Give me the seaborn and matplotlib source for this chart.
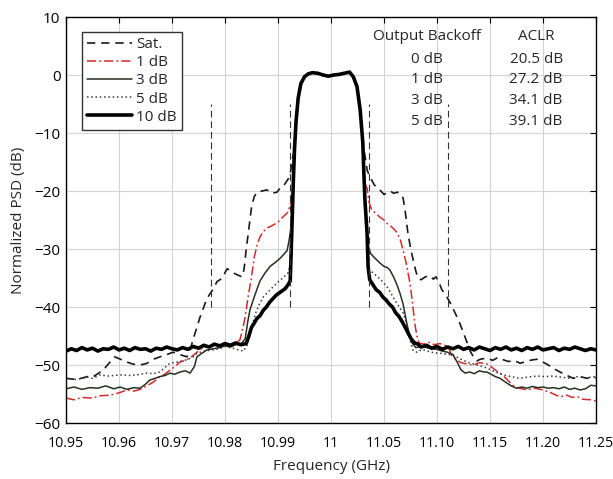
import matplotlib
matplotlib.use("Agg")
import matplotlib.pyplot as plt
import seaborn as sns

# ---------------- data (x in tick-index units, y in dB) ----------------
TICK_POS = [0, 1, 2, 3, 4, 5, 6, 7, 8, 9, 10]
TICK_LABELS = ["10.95", "10.96", "10.97", "10.98", "10.99", "11",
               "11.05", "11.10", "11.15", "11.20", "11.25"]
Y_TICKS = [-60, -50, -40, -30, -20, -10, 0, 10]

# common main-channel band
BAND_X = [4.23, 4.25, 4.27, 4.29, 4.31, 4.34, 4.38, 4.43, 4.50, 4.57, 4.65, 4.75,
          4.85, 4.95, 5.05, 5.15, 5.25, 5.35, 5.42, 5.49, 5.55, 5.60, 5.62, 5.64,
          5.68, 5.70, 5.73]
BAND_Y = [-36, -30, -24, -18, -13, -8, -4, -1.5, -0.3, 0.2, 0.4, 0.3,
          0.0, -0.2, 0.0, 0.1, 0.3, 0.5, -0.3, -2, -6, -11.7, -17, -21.6,
          -27.2, -33.1, -35.3]

# Sat.
SAT_LX = [0, 0.2, 0.4, 0.5, 0.6, 0.7, 0.8, 0.92, 1.0, 1.15, 1.25, 1.34, 1.45, 1.53,
          1.65, 1.77, 1.9, 2.02, 2.15, 2.28, 2.34, 2.4, 2.47, 2.53, 2.6, 2.66, 2.77,
          2.85, 2.94, 3.04, 3.1, 3.15, 3.22, 3.32, 3.36, 3.4, 3.44, 3.5, 3.55, 3.6,
          3.7, 3.79, 3.88, 3.98, 4.04, 4.09, 4.15, 4.2, 4.24, 4.27]
SAT_LY = [-52.3, -52.5, -52.0, -52.1, -51.5, -50.9, -49.8, -48.6, -48.9, -49.5, -49.8,
          -50.0, -49.9, -49.7, -49.0, -48.6, -48.2, -47.8, -48.2, -48.6, -47.5, -45.5,
          -43.5, -41.7, -40.0, -38.5, -37.0, -35.6, -35.1, -33.4, -33.7, -34.1, -34.4,
          -34.8, -33.5, -30.0, -27.2, -22.8, -21.0, -20.2, -20.0, -19.8, -20.4, -20.2,
          -19.5, -19.3, -18.5, -17.8, -16.5, -14.5]
SAT_RX = [5.66, 5.68, 5.75, 5.82, 5.87, 5.94, 6.0, 6.06, 6.12, 6.18, 6.25, 6.32, 6.36,
          6.4, 6.45, 6.5, 6.55, 6.6, 6.64, 6.7, 6.78, 6.87, 6.93, 6.98, 7.04, 7.09,
          7.17, 7.25, 7.34, 7.43, 7.5, 7.57, 7.62, 7.68, 7.75, 7.82, 7.94, 8.05, 8.15,
          8.25, 8.35, 8.45, 8.57, 8.7, 8.81, 8.9, 9.0, 9.1, 9.2, 9.32, 9.45, 9.57,
          9.7, 9.83, 9.92, 10.0]
SAT_RY = [-15.0, -16.4, -17.8, -19.0, -19.3, -20.0, -20.6, -20.3, -20.0, -20.4, -20.2,
          -20.6, -21.2, -23.5, -27.2, -29.8, -31.9, -33.8, -35.0, -35.3, -34.8, -34.6,
          -35.2, -34.8, -35.8, -37.0, -38.0, -39.3, -41.0, -42.8, -44.5, -46.2, -47.5,
          -48.5, -49.3, -49.0, -48.8, -49.2, -48.7, -49.1, -49.4, -49.2, -49.7, -49.3,
          -49.1, -49.0, -49.5, -50.0, -50.6, -51.2, -51.8, -52.3, -52.0, -52.3, -52.1,
          -52.2]

# 1 dB
B1_LX = [0, 0.15, 0.3, 0.5, 0.65, 0.83, 1.0, 1.15, 1.28, 1.4, 1.52, 1.64, 1.77, 1.86,
         1.96, 2.05, 2.15, 2.25, 2.34, 2.47, 2.56, 2.66, 2.78, 2.9, 3.0, 3.09, 3.18,
         3.28, 3.34, 3.38, 3.44, 3.5, 3.55, 3.6, 3.66, 3.72, 3.79, 3.88, 3.98, 4.04,
         4.09, 4.15, 4.19, 4.24, 4.28]
B1_LY = [-55.7, -56.0, -55.6, -55.7, -55.3, -55.2, -54.8, -54.3, -54.5, -54.2, -53.6,
         -53.0, -52.0, -51.6, -50.9, -50.3, -49.5, -49.2, -48.8, -47.8, -47.2, -46.9,
         -46.7, -46.6, -46.3, -46.6, -46.2, -45.7, -43.5, -41.7, -38.0, -34.8, -31.5,
         -29.5, -27.9, -27.0, -26.4, -26.0, -25.5, -25.0, -24.5, -24.0, -23.6, -22.0,
         -20.0]
B1_RX = [5.65, 5.68, 5.72, 5.77, 5.84, 5.92, 6.0, 6.06, 6.11, 6.18, 6.25, 6.31, 6.36,
         6.42, 6.49, 6.54, 6.58, 6.62, 6.66, 6.75, 6.85, 6.95, 7.05, 7.15, 7.22, 7.28,
         7.35, 7.45, 7.55, 7.68, 7.8, 7.94, 8.05, 8.12, 8.19, 8.3, 8.43, 8.55, 8.7,
         8.85, 9.0, 9.15, 9.32, 9.45, 9.55, 9.64, 9.75, 9.9, 10.0]
B1_RY = [-19.0, -19.5, -22.0, -23.3, -23.8, -24.5, -25.0, -25.6, -25.9, -26.5, -27.2,
         -28.5, -30.2, -32.5, -35.9, -39.5, -42.8, -45.0, -46.2, -46.4, -46.1, -46.5,
         -46.3, -46.6, -47.0, -48.5, -49.0, -49.6, -49.8, -50.0, -49.6, -49.8, -50.5,
         -51.0, -51.4, -52.3, -53.5, -54.0, -54.3, -54.0, -54.3, -54.8, -55.5, -55.2,
         -55.6, -55.4, -55.9, -56.0, -56.2]

# 3 dB
B3_LX = [0, 0.15, 0.3, 0.45, 0.6, 0.75, 0.9, 1.02, 1.15, 1.28, 1.4, 1.5, 1.58, 1.68,
         1.77, 1.87, 1.96, 2.05, 2.15, 2.25, 2.34, 2.42, 2.47, 2.56, 2.66, 2.78, 2.9,
         3.0, 3.1, 3.2, 3.3, 3.38, 3.43, 3.47, 3.55, 3.6, 3.66, 3.75, 3.85, 3.95, 4.04,
         4.1, 4.17, 4.21, 4.24, 4.27]
B3_LY = [-54.1, -53.8, -54.2, -53.9, -54.0, -53.6, -54.1, -53.8, -54.2, -53.9, -54.0,
         -53.3, -52.6, -52.3, -52.0, -51.8, -51.4, -51.6, -51.2, -51.0, -51.4, -50.3,
         -48.6, -48.0, -47.4, -47.2, -47.0, -46.7, -46.9, -46.5, -46.4, -45.5, -42.5,
         -40.5, -38.3, -37.0, -35.5, -34.2, -33.0, -32.3, -31.6, -31.0, -30.3, -28.5,
         -26.5, -24.0]
B3_RX = [5.66, 5.7, 5.75, 5.82, 5.92, 6.0, 6.06, 6.11, 6.18, 6.25, 6.3, 6.36, 6.43,
         6.48, 6.53, 6.6, 6.7, 6.8, 6.9, 7.0, 7.1, 7.2, 7.3, 7.38, 7.45, 7.53, 7.62,
         7.7, 7.8, 7.88, 7.94, 8.02, 8.1, 8.19, 8.3, 8.4, 8.5, 8.6, 8.7, 8.8, 8.9,
         9.0, 9.1, 9.2, 9.3, 9.4, 9.5, 9.6, 9.7, 9.8, 9.9, 10.0]
B3_RY = [-25.0, -29.5, -30.8, -31.5, -32.4, -33.0, -33.2, -33.6, -34.8, -36.3, -37.6,
         -39.5, -42.8, -44.8, -46.2, -47.0, -46.8, -47.0, -47.2, -47.3, -47.6, -47.8,
         -48.2, -49.5, -50.8, -51.4, -51.2, -51.5, -51.0, -51.2, -51.2, -51.6, -52.0,
         -52.3, -53.0, -53.6, -54.0, -53.8, -54.0, -53.7, -53.9, -53.8, -54.0, -53.9,
         -54.1, -53.8, -54.2, -54.0, -54.3, -54.1, -53.5, -53.6]

# 5 dB
B5_LX = [0, 0.2, 0.4, 0.5, 0.64, 0.8, 1.02, 1.2, 1.34, 1.53, 1.65, 1.77, 1.87, 1.96,
         2.1, 2.28, 2.4, 2.47, 2.6, 2.77, 2.9, 3.0, 3.15, 3.25, 3.35, 3.42, 3.5, 3.58,
         3.65, 3.72, 3.8, 3.9, 4.0, 4.09, 4.19, 4.24, 4.26]
B5_LY = [-52.3, -52.5, -52.1, -52.3, -51.7, -51.9, -51.7, -51.8, -51.7, -51.4, -51.5,
         -51.2, -50.4, -49.7, -49.5, -49.1, -48.6, -48.0, -47.6, -47.4, -47.2, -46.8,
         -47.1, -47.4, -47.6, -46.5, -43.5, -41.0, -39.5, -38.3, -37.5, -36.6, -35.7,
         -35.0, -34.1, -32.5, -29.0]
B5_RX = [5.69, 5.72, 5.79, 5.88, 5.98, 6.08, 6.17, 6.26, 6.36, 6.43, 6.49, 6.55, 6.62,
         6.72, 6.82, 6.95, 7.1, 7.3, 7.45, 7.6, 7.75, 7.94, 8.1, 8.25, 8.4, 8.55, 8.7,
         8.89, 9.05, 9.19, 9.35, 9.51, 9.65, 9.8, 10.0]
B5_RY = [-30.0, -33.5, -34.1, -34.8, -35.7, -36.8, -38.3, -39.6, -41.0, -43.0, -45.7,
         -47.5, -47.8, -47.3, -47.6, -47.9, -48.0, -48.3, -49.0, -49.6, -50.0, -50.5,
         -51.2, -51.7, -52.0, -52.3, -52.1, -51.9, -52.0, -51.9, -52.1, -52.3, -52.0,
         -52.2, -52.0]

# 10 dB
B10_LX = [0, 0.1, 0.2, 0.3, 0.4, 0.5, 0.6, 0.7, 0.8, 0.9, 1.0, 1.1, 1.2, 1.3, 1.4,
          1.5, 1.6, 1.7, 1.8, 1.9, 2.0, 2.1, 2.2, 2.3, 2.4, 2.5, 2.6, 2.7, 2.8, 2.9,
          3.0, 3.1, 3.2, 3.3, 3.4, 3.45, 3.5, 3.55, 3.6, 3.66, 3.72, 3.78, 3.84, 3.9,
          3.96, 4.02, 4.08, 4.14, 4.2, 4.23]
B10_LY = [-47.6, -47.2, -47.5, -47.0, -47.4, -47.1, -47.6, -47.2, -47.3, -46.9, -47.4,
          -47.1, -47.5, -47.0, -47.3, -47.2, -47.6, -47.1, -47.3, -46.9, -47.2, -47.4,
          -47.0, -47.3, -46.8, -47.1, -46.6, -46.9, -46.4, -46.7, -46.3, -46.6, -46.2,
          -46.5, -46.3, -45.0, -43.5, -42.8, -42.0, -41.5, -40.6, -40.0, -39.2, -38.6,
          -38.0, -37.6, -37.2, -36.8, -36.0, -35.5]
B10_RX = [5.78, 5.85, 5.92, 5.98, 6.04, 6.1, 6.16, 6.22, 6.28, 6.34, 6.4, 6.46, 6.52,
          6.58, 6.64, 6.7, 6.8, 6.9, 7.0, 7.1, 7.2, 7.3, 7.4, 7.5, 7.6, 7.7, 7.8, 7.9,
          8.0, 8.1, 8.2, 8.3, 8.4, 8.5, 8.6, 8.7, 8.8, 8.9, 9.0, 9.1, 9.2, 9.3, 9.4,
          9.5, 9.6, 9.7, 9.8, 9.9, 10.0]
B10_RY = [-36.0, -37.0, -37.5, -38.3, -38.8, -39.5, -40.0, -41.0, -41.6, -42.5, -43.5,
          -44.6, -45.6, -46.2, -46.4, -46.9, -46.6, -47.1, -46.8, -47.3, -46.9, -47.2,
          -46.8, -47.3, -47.0, -47.4, -46.9, -47.2, -47.5, -47.0, -47.3, -46.9, -47.4,
          -47.1, -47.5, -47.0, -47.3, -46.9, -47.4, -47.2, -47.0, -47.5, -47.1, -47.3,
          -46.9, -47.2, -47.5, -47.2, -47.4]

MARKER_X = [2.73, 4.23, 5.72, 7.2]
MARKER_Y0, MARKER_Y1 = -40, -5

TABLE_HEAD = ["Output Backoff", "ACLR"]
TABLE_BACKOFF = ["0 dB", "1 dB", "3 dB", "5 dB"]
TABLE_ACLR = ["20.5 dB", "27.2 dB", "34.1 dB", "39.1 dB"]


def build(lx, ly, rx, ry):
    bx, by = [], []
    for x, y in zip(BAND_X, BAND_Y):
        if x < 5 and x > lx[-1] and y > ly[-1]:
            bx.append(x); by.append(y)
        elif x >= 5 and x < rx[0] and y > ry[0]:
            bx.append(x); by.append(y)
    return lx + bx + rx, ly + by + ry


sns.set_style("white")
plt.rcParams["font.family"] = ["Open Sans", "DejaVu Sans"]
FS = 11

fig = plt.figure(figsize=(6.13, 4.79), dpi=100)
ax = fig.add_axes([0.1077, 0.1169, 0.8646, 0.8476])

series = [
    ("Sat.", SAT_LX, SAT_LY, SAT_RX, SAT_RY, "#1a1a1a", 1.2, (0, (5, 3.5))),
    ("1 dB", B1_LX, B1_LY, B1_RX, B1_RY, "#d42a2a", 1.1, (0, (6, 2, 1.2, 2))),
    ("3 dB", B3_LX, B3_LY, B3_RX, B3_RY, "#283020", 1.1, "-"),
    ("5 dB", B5_LX, B5_LY, B5_RX, B5_RY, "#3a3a3a", 1.1, (0, (1, 1.8))),
    ("10 dB", B10_LX, B10_LY, B10_RX, B10_RY, "#000000", 2.6, "-"),
]

handles = []
for name, lx, ly, rx, ry, col, lw, ls in series:
    xs, ys = build(lx, ly, rx, ry)
    sns.lineplot(x=xs, y=ys, ax=ax, sort=False, estimator=None, color=col,
                 lw=lw, linestyle=ls, label=name, legend=False)
    handles.append(ax.lines[-1])

ax.vlines(MARKER_X, MARKER_Y0, MARKER_Y1, colors="#333333", lw=0.8,
          linestyles=(0, (6, 3.5)))

ax.set_xlim(0, 10)
ax.set_ylim(-60, 10)
ax.set_xticks(TICK_POS)
ax.set_xticklabels(TICK_LABELS)
ax.set_yticks(Y_TICKS)
ax.grid(True, color="#d4d4d4", lw=0.8)
ax.set_axisbelow(True)
for sp in ax.spines.values():
    sp.set_color("black")
    sp.set_linewidth(1.0)
ax.tick_params(axis="both", direction="in", length=4, width=0.8, colors="black",
               labelsize=FS, top=True, right=True)
ax.tick_params(axis="x", labelsize=10.2, pad=9)
ax.tick_params(axis="y", pad=4)
ax.set_xlabel("Frequency (GHz)", fontsize=FS, labelpad=6)
ax.set_ylabel("Normalized PSD (dB)", fontsize=FS, labelpad=6)

leg = ax.legend(handles=handles, labels=[s[0] for s in series], loc="upper left",
                bbox_to_anchor=(0.03, 0.963), fontsize=FS, frameon=True,
                fancybox=False, framealpha=1, edgecolor="#333333",
                handlelength=2.9, handletextpad=0.3, labelspacing=0.2,
                borderpad=0.35, borderaxespad=0)
leg.get_frame().set_linewidth(1.0)

ax.text(6.81, 6.6, TABLE_HEAD[0], ha="center", va="center", fontsize=FS)
ax.text(8.87, 6.6, TABLE_HEAD[1], ha="center", va="center", fontsize=FS)
for yv, a, b in zip([2.7, -0.86, -4.43, -8.05], TABLE_BACKOFF, TABLE_ACLR):
    ax.text(6.81, yv, a, ha="center", va="center", fontsize=FS)
    ax.text(8.87, yv, b, ha="center", va="center", fontsize=FS)

fig.savefig("out.png", dpi=100, facecolor="white")
